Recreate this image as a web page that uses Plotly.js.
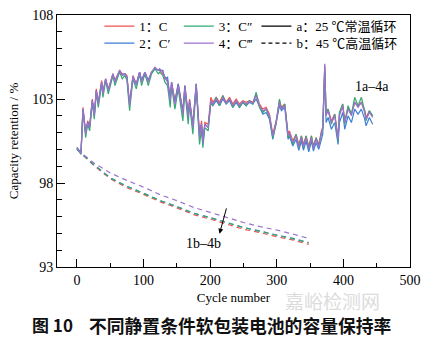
<!DOCTYPE html>
<html>
<head>
<meta charset="utf-8">
<script src="https://cdn.plot.ly/plotly-3.0.1.min.js"></script>
<style>html,body{margin:0;padding:0;background:#fff;}#chart{width:426px;height:343px;}</style>
</head>
<body>
<div id="chart"></div>
<script>
// 25 °C cycling (a), cycle numbers
const cycles25 = [0,1,6,9,13,16,19,23,26,29,
  32,37,39,43,47,54,57,64,68,72,
  75,79,84,89,94,97,102,107,112,117,
  122,124,129,132,136,140,142,147,152,159,
  162,167,169,174,179,184,187,189,192,197,
  201,204,209,214,219,224,229,234,239,244,
  249,254,259,264,269,274,279,284,289,294,
  299,304,307,312,317,319,324,329,333,337,
  340,344,348,352,355,359,363,367,369,372,
  374,377,382,387,392,394,399,402,407,412,
  417,422,427,432,434,439,444];
const a1 = [100.1,100.05,99.8,102.5,101.0,101.7,101.4,103.0,102.1,103.6,
  102.8,104.1,103.4,104.2,103.6,104.5,104.1,104.7,104.5,104.5,
  104.4,102.7,104.4,103.9,104.6,104.1,104.6,104.1,104.6,104.8,
  104.7,104.7,104.5,104.3,104.1,103.1,104.0,102.9,103.9,102.3,
  103.8,102.1,103.0,101.5,103.9,100.9,101.7,100.5,101.6,101.5,
  103.1,102.8,103.1,102.8,103.2,102.8,103.1,102.7,103.0,102.7,
  102.9,102.8,102.9,102.8,103.3,102.7,102.4,102.5,102.1,100.9,
  101.7,102.9,102.5,102.7,100.9,101.1,100.5,100.9,100.3,100.8,
  100.3,100.8,100.2,100.8,100.2,100.7,100.3,101.1,101.3,105.0,
  102.1,102.4,101.7,102.1,100.7,102.1,102.7,101.7,102.5,102.1,
  102.8,102.6,102.8,102.3,101.9,102.3,102.0];
const a2 = [100.1,100.05,99.8,102.4,101.0,101.6,101.3,102.9,102.0,103.5,
  102.7,104.0,103.3,104.2,103.5,104.5,104.0,104.7,104.4,104.5,
  104.3,102.7,104.3,103.9,104.6,104.1,104.6,104.1,104.6,104.8,
  104.7,104.7,104.7,104.2,104.3,102.9,104.0,102.8,103.9,102.2,
  103.8,101.9,102.9,101.4,103.9,100.8,101.5,100.4,101.5,101.3,
  102.8,102.6,102.9,102.6,103.0,102.7,102.9,102.5,102.8,102.5,
  102.8,102.6,102.8,102.7,103.0,102.5,102.1,102.2,101.8,100.6,
  101.5,102.6,102.3,102.5,100.6,100.8,100.2,100.6,99.95,100.5,
  99.95,100.5,99.85,100.5,99.9,100.4,100.0,100.7,100.9,104.6,
  101.6,101.9,101.2,101.6,100.3,101.6,102.2,101.2,102.0,101.6,
  102.4,102.1,102.4,101.8,101.4,101.9,101.5];
const a3 = [100.1,100.0,99.7,102.3,100.7,101.5,101.1,102.8,101.8,103.4,
  102.5,103.9,103.1,104.1,103.3,104.4,103.8,104.6,104.2,104.4,
  104.1,102.3,104.2,103.6,104.5,103.8,104.5,103.8,104.5,104.8,
  104.5,104.6,104.4,104.0,103.8,102.5,103.8,102.4,103.6,101.7,
  103.5,101.5,102.7,100.9,103.7,100.3,101.2,100.1,101.3,101.1,
  102.8,102.6,103.1,102.6,103.2,102.7,103.0,102.5,102.9,102.5,
  102.8,102.6,102.9,102.7,103.4,102.5,102.2,102.4,101.9,100.7,
  101.5,103.0,102.4,102.7,100.7,100.9,100.3,100.9,100.1,100.8,
  100.1,100.8,100.0,100.8,100.1,100.7,100.2,101.1,101.3,104.9,
  102.1,102.4,101.5,102.1,100.5,102.2,102.7,101.5,102.6,102.1,
  103.1,102.6,103.1,102.3,101.7,102.3,102.0];
const a4 = [100.1,100.05,99.75,102.4,100.9,101.6,101.3,102.9,102.0,103.5,
  102.7,104.0,103.3,104.2,103.5,104.5,104.0,104.7,104.4,104.5,
  104.3,102.6,104.35,103.8,104.6,104.0,104.6,104.0,104.6,104.9,
  104.7,104.8,104.6,104.25,104.0,102.9,104.0,102.7,103.8,102.1,
  103.7,101.9,102.9,101.3,103.85,100.7,101.5,100.35,101.5,101.3,
  102.9,102.7,103.0,102.7,103.1,102.75,103.0,102.6,102.9,102.6,
  102.85,102.7,102.85,102.75,103.2,102.6,102.3,102.4,102.0,100.8,
  101.6,102.8,102.4,102.6,100.8,101.0,100.4,100.8,100.15,100.7,
  100.15,100.7,100.05,100.7,100.05,100.6,100.15,101.0,101.2,105.1,
  102.0,102.3,101.6,102.0,100.6,102.0,102.6,101.6,102.4,102.0,
  102.8,102.5,102.8,102.2,101.8,102.2,101.9];

// 45 °C cycling (b)
const cycles45 = [0,25,50,75,100,125,150,175,200,225,250,275,300,325,348];
const b1 = [100.0,99.05,98.25,97.72,97.32,96.88,96.52,96.12,95.85,95.55,95.25,95.05,94.8,94.6,94.35];
const b2 = [100.0,99.1,98.3,97.8,97.4,96.95,96.6,96.2,95.95,95.65,95.35,95.15,94.9,94.7,94.45];
const b3 = [100.0,99.1,98.32,97.8,97.38,96.95,96.6,96.2,95.93,95.63,95.35,95.12,94.88,94.68,94.45];
const b4 = [100.0,99.2,98.6,98.15,97.75,97.3,96.95,96.55,96.25,95.95,95.65,95.4,95.2,94.95,94.7];

const names = ['1：C', '2：C′', '3：C″', '4：C‴'];
const legendA = 'a：25 ℃常温循环';
const legendB = 'b：45 ℃高温循环';
const colors = ['#ef5350', '#3d7fd6', '#35a872', '#9b72cf'];

const serif = 'Liberation Serif, Noto Sans CJK SC, serif';
const aSeries = [a1, a2, a3, a4];
const bSeries = [b1, b2, b3, b4];
const legendIds = ['legend', 'legend2', 'legend3', 'legend4'];

const traces = [];
for (let i = 0; i < 4; i++) {
  traces.push({x: cycles45, y: bSeries[i], mode: 'lines', showlegend: false,
    line: {color: colors[i], width: 1.2, dash: '5px,4px'}});
}
for (let i = 0; i < 4; i++) {
  traces.push({x: cycles25, y: aSeries[i], mode: 'lines', name: names[i],
    legend: legendIds[i], line: {color: colors[i], width: 1.2}});
}
traces.push({x: [null], y: [null], mode: 'lines', name: legendA, legend: 'legend5',
  line: {color: '#000', width: 1.2}});
traces.push({x: [null], y: [null], mode: 'lines', name: legendB, legend: 'legend6',
  line: {color: '#000', width: 1.2, dash: '4px,3px'}});

const legBase = {bgcolor: 'rgba(0,0,0,0)', font: {family: serif, size: 13, color: '#000'},
  yanchor: 'middle', xanchor: 'left', itemwidth: 30};
const row1 = 0.956, row2 = 0.888;

const layout = {
  width: 426, height: 343,
  margin: {l: 57, r: 16, t: 11, b: 76},
  paper_bgcolor: '#fff', plot_bgcolor: '#fff',
  font: {family: serif, size: 14, color: '#000'},
  xaxis: {range: [-30, 500], tick0: 0, dtick: 100, ticks: 'inside', ticklen: 8, tickwidth: 1,
    tickcolor: '#000', showline: true, mirror: true, linecolor: '#000', linewidth: 1,
    showgrid: false, zeroline: false,
    minor: {dtick: 50, ticks: 'inside', ticklen: 4, tickcolor: '#000', showgrid: false},
    tickfont: {family: serif, size: 14},
    title: {text: 'Cycle number', font: {family: serif, size: 13}, standoff: 6}},
  yaxis: {range: [93, 108], tick0: 93, dtick: 5, ticks: 'inside', ticklen: 8, tickwidth: 1,
    tickcolor: '#000', showline: true, mirror: true, linecolor: '#000', linewidth: 1,
    showgrid: false, zeroline: false,
    minor: {dtick: 1, ticks: 'inside', ticklen: 5, tickcolor: '#000', showgrid: false},
    tickfont: {family: serif, size: 14},
    title: {text: 'Capacity retention / %', font: {family: serif, size: 13}, standoff: 10}},
  legend: Object.assign({}, legBase, {x: 0.12, y: row1}),
  legend2: Object.assign({}, legBase, {x: 0.12, y: row2}),
  legend3: Object.assign({}, legBase, {x: 0.345, y: row1}),
  legend4: Object.assign({}, legBase, {x: 0.345, y: row2}),
  legend5: Object.assign({}, legBase, {x: 0.565, y: row1}),
  legend6: Object.assign({}, legBase, {x: 0.565, y: row2}),
  annotations: [
    {x: 443, y: 103.76, xref: 'x', yref: 'y', text: '1a–4a', showarrow: false,
      font: {family: serif, size: 14}},
    {x: 190, y: 94.41, xref: 'x', yref: 'y', text: '1b–4b', showarrow: false,
      font: {family: serif, size: 14}},
    {x: 214, y: 94.98, xref: 'x', yref: 'y', axref: 'x', ayref: 'y', ax: 225, ay: 96.58,
      text: '', showarrow: true, arrowhead: 2, arrowsize: 1, arrowwidth: 1, arrowcolor: '#000'},
    {x: 0.64, y: -0.131, xref: 'paper', yref: 'paper', xanchor: 'left', yanchor: 'middle',
      text: '嘉峪检测网', showarrow: false,
      font: {family: 'Noto Sans CJK SC', size: 19, color: '#dcdcdc'}},
    {x: -0.0765, y: -0.23, xref: 'paper', yref: 'paper', xanchor: 'left', yanchor: 'middle',
      text: '<b>图 10</b>', showarrow: false,
      font: {family: 'Noto Sans CJK SC', size: 17, color: '#111'}},
    {x: 0.085, y: -0.23, xref: 'paper', yref: 'paper', xanchor: 'left', yanchor: 'middle',
      text: '<b>不同静置条件软包装电池的容量保持率</b>', showarrow: false,
      font: {family: 'Noto Sans CJK SC', size: 17.8, color: '#111'}}
  ]
};

Plotly.newPlot('chart', traces, layout, {displayModeBar: false, staticPlot: true});
</script>
</body>
</html>
